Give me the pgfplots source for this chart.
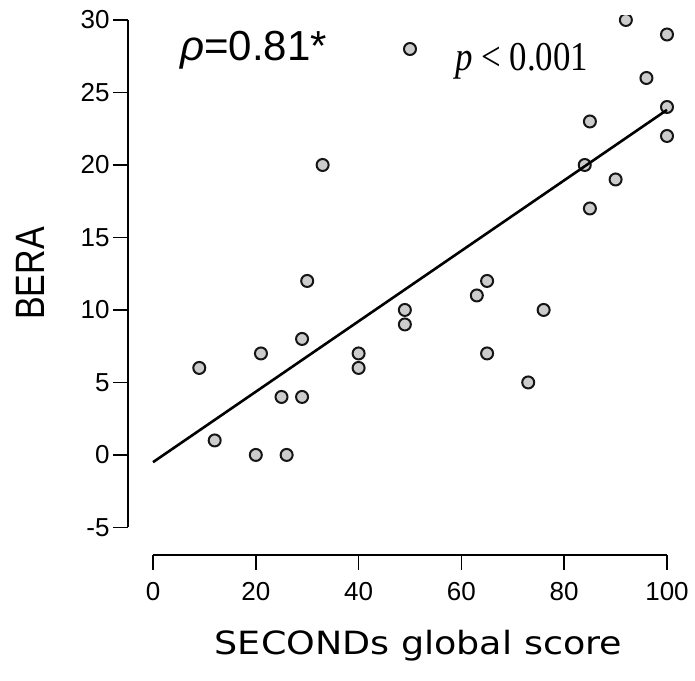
\documentclass[border=0pt]{standalone}
\usepackage{pgfplots}
\pgfplotsset{compat=1.18}
\usepackage{fontspec}
\setmainfont{Liberation Sans}
\newfontfamily\berafont[FakeStretch=0.83]{Liberation Sans}
\newfontfamily\xlabfont[FakeStretch=1.14]{DejaVu Sans}
\newfontfamily\pfont[FakeStretch=0.85]{Liberation Serif}
\definecolor{ptfill}{HTML}{CCCCCC}
\definecolor{ptedge}{HTML}{151515}

\begin{document}
\begin{tikzpicture}
\begin{axis}[
    scale only axis,
    width=559.5pt, height=539pt,
    xmin=-4.86, xmax=104,
    ymin=-6.9, ymax=30.28,
    clip marker paths=true,
    axis line style={draw=none},
    xtick={0,20,...,100},
    ytick={-5,0,...,30},
    xtick pos=bottom, ytick pos=left,
    tick align=outside,
    major tick length=15pt,
    tick style={line width=1.7pt, black},
    /pgf/number format/assume math mode=true,
    ticklabel style={font=\fontsize{26}{26}\selectfont},
    xticklabel style={yshift=-9pt},
    xlabel={\xlabfont\fontsize{32}{32}\selectfont SECONDs global score},
    xlabel style={at={(rel axis cs:0.519,-0.1853)}, anchor=base},
    ylabel={\berafont\fontsize{41}{41}\selectfont BERA},
    ylabel style={at={(rel axis cs:-0.1752,0.5223)}, anchor=center},
    after end axis/.code={
        \draw[line width=1.7pt] (axis cs:-4.86,-5) -- (axis cs:-4.86,30);
        \draw[line width=1.7pt] (axis cs:0,-6.9) -- (axis cs:100,-6.9);
        \node[anchor=base west, inner sep=0pt] at (axis cs:5.25,27.24)
            {\fontsize{42}{42}\selectfont\textit{ρ}=0.81*};
        \node[anchor=base west, inner sep=0pt] at (axis cs:58.75,26.55)
            {\pfont\fontsize{41}{41}\selectfont\textit{p} < 0.001};
        \path (axis cs:-29.77,-15.59) rectangle (axis cs:105.45,31.38);
    },
]
% scatter points
\addplot[only marks, mark=*, mark size=6pt,
    mark options={fill=ptfill, draw=ptedge, line width=2pt}]
    coordinates {
    (9,6) (12,1) (20,0) (21,7) (25,4) (26,0) (29,8) (29,4) (30,12)
    (33,20) (40,7) (40,6) (49,10) (49,9) (50,28) (63,11) (65,12) (65,7)
    (73,5) (76,10) (84,20) (85,23) (85,17) (90,19) (92,30) (96,26)
    (100,29) (100,24) (100,22)
};
% fitted line
\addplot[line width=2.6pt, black] coordinates {(0,-0.5) (100,23.8)};
\end{axis}
\end{tikzpicture}
\end{document}
